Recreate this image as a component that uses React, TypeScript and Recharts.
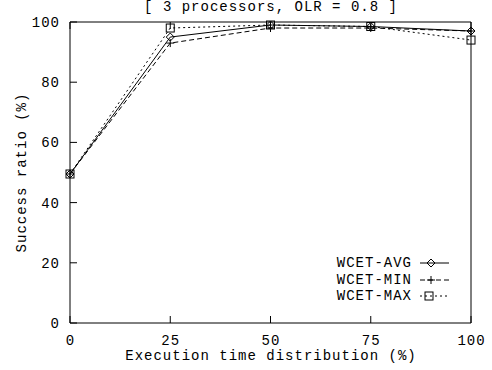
import React from 'react';
import { LineChart, Line, XAxis, YAxis, Customized } from 'recharts';

const categories = [0, 25, 50, 75, 100];
const wcetAvg = [49.5, 95, 99, 98.5, 97];
const wcetMin = [49.5, 93, 98, 98, 97];
const wcetMax = [49.5, 98, 99, 98.5, 94];
const xTicks = [0, 25, 50, 75, 100];
const yTicks = [0, 20, 40, 60, 80, 100];
const seriesNames = ['WCET-AVG', 'WCET-MIN', 'WCET-MAX'];

const data = categories.map((c, i) => ({ x: c, avg: wcetAvg[i], min: wcetMin[i], max: wcetMax[i] }));

const FONT = '"Liberation Mono", "DejaVu Sans Mono", monospace';
const FS = 14;
const LS = 1;

const T = (p: any) => (
  <text fontFamily={FONT} fontSize={FS} letterSpacing={LS} fill="#000" {...p} />
);

const Diamond = (p: any) => {
  const { cx, cy } = p;
  if (cx == null || cy == null) return null;
  const r = 4;
  return <path d={`M${cx},${cy - r}L${cx + r},${cy}L${cx},${cy + r}L${cx - r},${cy}Z`} fill="none" stroke="#000" strokeWidth={1} />;
};
const Plus = (p: any) => {
  const { cx, cy } = p;
  if (cx == null || cy == null) return null;
  const r = 4;
  return <path d={`M${cx - r},${cy}L${cx + r},${cy}M${cx},${cy - r}L${cx},${cy + r}`} fill="none" stroke="#000" strokeWidth={1} />;
};
const Square = (p: any) => {
  const { cx, cy } = p;
  if (cx == null || cy == null) return null;
  const r = 4;
  return <rect x={cx - r} y={cy - r} width={2 * r} height={2 * r} fill="none" stroke="#000" strokeWidth={1} />;
};

const BottomTick = (p: any) => {
  const { x, y, payload } = p;
  return (
    <g>
      <line x1={x} y1={y} x2={x} y2={y - 7} stroke="#000" />
      <T x={x + 0.5} y={y + 22} textAnchor="middle">{payload.value}</T>
    </g>
  );
};
const TopTick = (p: any) => {
  const { x, y } = p;
  return <line x1={x} y1={y} x2={x} y2={y + 7} stroke="#000" />;
};
const LeftTick = (p: any) => {
  const { x, y, payload } = p;
  return (
    <g>
      <line x1={x} y1={y} x2={x + 7} y2={y} stroke="#000" />
      <T x={x - 10} y={y + 5} textAnchor="end">{payload.value}</T>
    </g>
  );
};
const RightTick = (p: any) => {
  const { x, y } = p;
  return <line x1={x} y1={y} x2={x - 7} y2={y} stroke="#000" />;
};

const Extras = () => {
  const rows = [
    { name: seriesNames[0], y: 263, dash: undefined, M: Diamond, mx: 431 },
    { name: seriesNames[1], y: 280, dash: '5 3', M: Plus, mx: 431 },
    { name: seriesNames[2], y: 296, dash: '2 3', M: Square, mx: 429 },
  ];
  return (
    <g>
      <T x={271} y={11} textAnchor="middle">[ 3 processors, OLR = 0.8 ]</T>
      <T x={271} y={360} textAnchor="middle">Execution time distribution (%)</T>
      <T x={0} y={0} transform="translate(26,172.5) rotate(-90)" textAnchor="middle">Success ratio (%)</T>
      {rows.map((r) => (
        <g key={r.name}>
          <T x={412} y={r.y + 4} textAnchor="end">{r.name}</T>
          <line x1={420} y1={r.y} x2={449} y2={r.y} stroke="#000" strokeDasharray={r.dash} />
          <r.M cx={r.mx} cy={r.y} />
        </g>
      ))}
    </g>
  );
};

export default function App() {
  return (
    <div style={{ position: 'absolute', left: 0, top: 0, width: 492, height: 370, background: '#fff' }}>
      <LineChart width={492} height={370} data={data} margin={{ top: 21, right: 20, bottom: 46, left: 69 }}>
        <XAxis dataKey="x" type="number" domain={[0, 100]} ticks={xTicks} interval={0} height={1} tickSize={0} tickMargin={0} tickLine={false} tick={<BottomTick />} axisLine={{ stroke: '#000' }} />
        <XAxis xAxisId="top" orientation="top" dataKey="x" type="number" domain={[0, 100]} ticks={xTicks} interval={0} height={1} tickSize={0} tickMargin={0} tickLine={false} tick={<TopTick />} axisLine={{ stroke: '#000' }} />
        <YAxis type="number" domain={[0, 100]} ticks={yTicks} interval={0} width={1} tickSize={0} tickMargin={0} tickLine={false} tick={<LeftTick />} axisLine={{ stroke: '#000' }} />
        <YAxis yAxisId="right" orientation="right" type="number" domain={[0, 100]} ticks={yTicks} interval={0} width={1} tickSize={0} tickMargin={0} tickLine={false} tick={<RightTick />} axisLine={{ stroke: '#000' }} />
        <Line dataKey="avg" type="linear" stroke="#000" strokeWidth={1} dot={<Diamond />} activeDot={false} isAnimationActive={false} />
        <Line dataKey="min" type="linear" stroke="#000" strokeWidth={1} strokeDasharray="5 3" dot={<Plus />} activeDot={false} isAnimationActive={false} />
        <Line dataKey="max" type="linear" stroke="#000" strokeWidth={1} strokeDasharray="2 3" dot={<Square />} activeDot={false} isAnimationActive={false} />
        <Customized component={<Extras />} />
      </LineChart>
    </div>
  );
}
